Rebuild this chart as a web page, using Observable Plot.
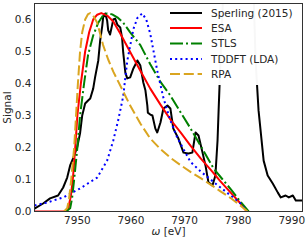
<!DOCTYPE html>
<html>
<head>
<meta charset="utf-8">
<script src="https://cdn.jsdelivr.net/npm/d3@7"></script>
<script src="https://cdn.jsdelivr.net/npm/@observablehq/plot@0.6"></script>
<style>
  html, body { margin: 0; padding: 0; background: white; }
  #wrap { position: relative; width: 306px; height: 240px; font-family: "DejaVu Sans", sans-serif; }
  #legend { position: absolute; left: 0; top: 0; pointer-events: none; }
</style>
</head>
<body>
<div id="wrap"></div>
<script>
// ---- data (energy in eV, signal) ----
const seriesNames = ["Sperling (2015)", "ESA", "STLS", "TDDFT (LDA)", "RPA"];

const sperlingE = [7942, 7943.6, 7944.9, 7946.4, 7947.35, 7948.1, 7948.65, 7949.2, 7949.95, 7950.5, 7950.9, 7951.45, 7952.0, 7952.4, 7952.95, 7953.3, 7953.9, 7954.25, 7954.65, 7954.8, 7955.2, 7955.55, 7955.75, 7956.1, 7956.5, 7956.7, 7957.05, 7957.45, 7958.0, 7958.35, 7958.55, 7958.95, 7959.3, 7959.85, 7960.45, 7961.2, 7961.75, 7962.3, 7962.7, 7963.05, 7963.15, 7963.6, 7964.0, 7964.55, 7964.9, 7965.5, 7966.05, 7966.8, 7967.35, 7967.9, 7968.85, 7969.8, 7970.7, 7971.45, 7972.05, 7972.6, 7973.35, 7973.9, 7974.45, 7975.2, 7975.75, 7976.15, 7976.35, 7976.7, 7977.45, 7980.1, 7982.7, 7983.25, 7983.8, 7984.75, 7985.5, 7986.45, 7987.4, 7987.95, 7988.85, 7989.45, 7990.2, 7990.75, 7991.7, 7992.0];
const sperlingV = [0.009, 0.025, 0.041, 0.05, 0.075, 0.106, 0.144, 0.166, 0.2, 0.244, 0.3, 0.3375, 0.347, 0.353, 0.384, 0.419, 0.472, 0.534, 0.581, 0.606, 0.619, 0.597, 0.566, 0.553, 0.584, 0.6, 0.603, 0.584, 0.575, 0.541, 0.497, 0.434, 0.416, 0.419, 0.447, 0.472, 0.456, 0.403, 0.378, 0.331, 0.309, 0.303, 0.3, 0.259, 0.247, 0.278, 0.322, 0.331, 0.322, 0.259, 0.228, 0.184, 0.181, 0.184, 0.247, 0.2375, 0.184, 0.144, 0.091, 0.081, 0.1125, 0.222, 0.316, 0.472, 0.78, 0.9, 0.78, 0.472, 0.316, 0.159, 0.1125, 0.0875, 0.059, 0.044, 0.05, 0.044, 0.05, 0.034, 0.034, 0.034];

const esaE = [7942, 7947.7, 7948.3, 7948.8, 7949.2, 7949.6, 7950.0, 7950.65, 7951.45, 7952.2, 7952.95, 7953.7, 7954.45, 7955.6, 7956.7, 7958.0, 7959.9, 7961.75, 7963.6, 7965.5, 7967.35, 7969.25, 7971.1, 7973.0, 7974.85, 7976.7, 7978.6, 7980.45, 7981.6];
const esaV = [0, 0, 0.01, 0.05, 0.11, 0.2, 0.3, 0.4, 0.5, 0.56, 0.6, 0.615, 0.62, 0.612, 0.594, 0.556, 0.497, 0.44, 0.384, 0.334, 0.2875, 0.247, 0.206, 0.166, 0.131, 0.094, 0.059, 0.025, 0];

const stlsE = [7947.9, 7948.65, 7949.0, 7949.4, 7950.0, 7950.5, 7951.25, 7952.0, 7952.95, 7953.9, 7954.8, 7955.55, 7956.5, 7957.45, 7958.55, 7959.85, 7961.75, 7963.6, 7965.5, 7967.35, 7969.25, 7971.1, 7973.0, 7975.4, 7977.1, 7978.6, 7980.45, 7981.95];
const stlsV = [0, 0.01, 0.04, 0.1, 0.2, 0.3, 0.4, 0.49, 0.55, 0.59, 0.613, 0.619, 0.616, 0.607, 0.59, 0.56, 0.52, 0.46, 0.405, 0.3625, 0.31, 0.26, 0.205, 0.135, 0.1, 0.07, 0.03, 0];

const tddftE = [7942, 7944.35, 7947.35, 7950.5, 7953.7, 7955.55, 7956.7, 7957.6, 7958.55, 7959.3, 7960.45, 7961.2, 7962.1, 7962.85, 7963.6, 7964.9, 7966.05, 7967.35, 7968.65, 7971.1, 7973.0, 7974.85, 7976.7, 7978.6, 7980.45, 7981.6];
const tddftV = [0.019, 0.028, 0.044, 0.072, 0.106, 0.159, 0.222, 0.284, 0.36, 0.47, 0.57, 0.605, 0.619, 0.6, 0.555, 0.44, 0.355, 0.285, 0.23, 0.155, 0.125, 0.1, 0.075, 0.05, 0.025, 0];

const rpaE = [7947.5, 7948.1, 7948.45, 7948.85, 7949.4, 7949.75, 7950.1, 7950.5, 7950.9, 7951.45, 7952.0, 7952.4, 7952.95, 7953.7, 7954.8, 7955.75, 7956.7, 7958.55, 7959.85, 7961.75, 7963.6, 7965.5, 7967.35, 7969.25, 7971.1, 7973.0, 7974.85, 7976.7, 7978.6, 7980.45, 7981.75];
const rpaV = [0, 0.01, 0.04, 0.1, 0.2, 0.3, 0.4, 0.5, 0.56, 0.6, 0.617, 0.62, 0.612, 0.59, 0.52, 0.475, 0.437, 0.375, 0.331, 0.275, 0.228, 0.195, 0.168, 0.145, 0.124, 0.104, 0.084, 0.063, 0.042, 0.018, 0];

const xTicks = [7950, 7960, 7970, 7980, 7990];
const yTicks = [0, 0.1, 0.2, 0.3, 0.4, 0.5, 0.6];

// ---- styles ----
const styles = [
  {color: "#000000", dash: null},
  {color: "#ff0000", dash: null},
  {color: "#008000", dash: "13,3,2,3"},
  {color: "#0000ff", dash: "2,3.2"},
  {color: "#daa520", dash: "10,3.8"}
];

const toRows = (E, V) => E.map((e, i) => ({x: e, y: V[i]}));
const seriesRows = [
  toRows(sperlingE, sperlingV),
  toRows(esaE, esaV),
  toRows(stlsE, stlsV),
  toRows(tddftE, tddftV),
  toRows(rpaE, rpaV)
];

const lineMarks = seriesRows.map((rows, i) => Plot.line(rows, {
  x: "x", y: "y",
  stroke: styles[i].color,
  strokeWidth: 2,
  strokeDasharray: styles[i].dash,
  strokeLinecap: "butt",
  strokeLinejoin: "round",
  clip: true
}));

const chart = Plot.plot({
  width: 306,
  height: 240,
  marginLeft: 34,
  marginRight: 4,
  marginTop: 3,
  marginBottom: 29,
  style: {fontFamily: "DejaVu Sans, sans-serif", fontSize: "10.5px", color: "#262626", background: "white"},
  x: {domain: [7942, 7992]},
  y: {domain: [0, 0.65]},
  marks: [
    ...lineMarks,
    Plot.axisX({ticks: xTicks, tickFormat: d => String(d), tickSize: 0, tickPadding: 5,
      label: "ω [eV]", labelAnchor: "center", labelArrow: "none", labelOffset: 23}),
    Plot.axisY({ticks: yTicks, tickFormat: d3.format(".1f"), tickSize: 0, tickPadding: 3,
      label: "Signal", labelAnchor: "center", labelArrow: "none", labelOffset: 31}),
    Plot.frame({stroke: "#333", strokeWidth: 1})
  ]
});

const wrap = document.getElementById("wrap");
wrap.appendChild(chart);

// italic omega in x label
d3.select(chart).selectAll("text").each(function() {
  if (this.textContent === "ω [eV]") {
    const t = d3.select(this);
    t.text(null);
    t.append("tspan").attr("font-style", "italic").text("ω");
    t.append("tspan").text(" [eV]");
  }
});

// ---- legend (inside upper right) ----
const lg = d3.select(wrap).append("svg")
  .attr("id", "legend").attr("width", 306).attr("height", 240)
  .attr("font-family", "DejaVu Sans, sans-serif").attr("font-size", "10.5px");
lg.append("rect").attr("x", 165).attr("y", 4).attr("width", 135).attr("height", 81)
  .attr("fill", "white").attr("fill-opacity", 0.97);
const rowY = [13, 28, 43.5, 59, 74];
seriesNames.forEach((name, i) => {
  lg.append("line").attr("x1", 170).attr("x2", 202).attr("y1", rowY[i]).attr("y2", rowY[i])
    .attr("stroke", styles[i].color).attr("stroke-width", 2)
    .attr("stroke-dasharray", styles[i].dash);
  lg.append("text").attr("x", 211).attr("y", rowY[i]).attr("dy", "0.36em")
    .attr("fill", "#262626").text(name);
});
</script>
</body>
</html>
